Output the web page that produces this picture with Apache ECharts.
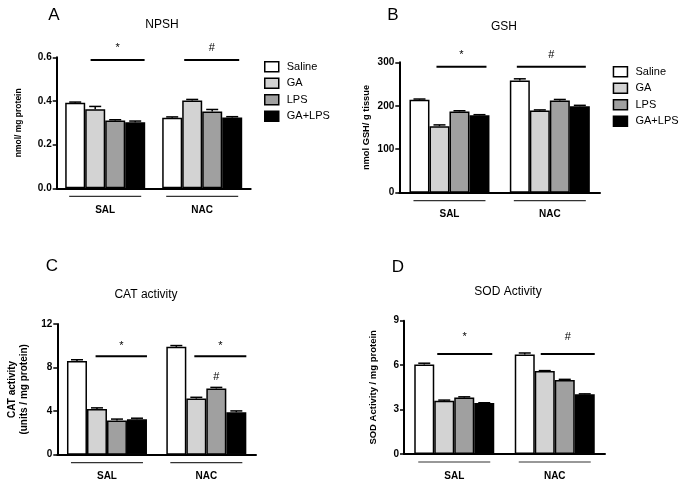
<!DOCTYPE html>
<html>
<head>
<meta charset="utf-8">
<script src="https://cdn.jsdelivr.net/npm/echarts@6/dist/echarts.min.js"></script>
<style>
html,body{margin:0;padding:0;background:#fff;}
#chart{width:683px;height:487px;}
</style>
</head>
<body>
<div id="chart"></div>
<script>
// ---------- DATA ----------
const categories = ['SAL', 'NAC'];
const seriesNames = ['Saline', 'GA', 'LPS', 'GA+LPS'];

// Panel A: NPSH (nmol / mg protein), values per series [Saline, GA, LPS, GA+LPS]
const npshSAL = [0.392, 0.362, 0.311, 0.303];
const npshNAC = [0.323, 0.402, 0.352, 0.324];
const npshErrSAL = [0.003, 0.013, 0.003, 0.005];
const npshErrNAC = [0.004, 0.005, 0.009, 0.004];
const npshTicks = [0, 0.2, 0.4, 0.6];

// Panel B: GSH (nmol GSH / g tissue)
const gshSAL = [214, 153, 187, 178];
const gshNAC = [258, 189, 212, 199];
const gshErrSAL = [1.5, 3, 1.5, 1.5];
const gshErrNAC = [4, 1.5, 2.5, 2];
const gshTicks = [0, 100, 200, 300];

// Panel C: CAT activity (units / mg protein)
const catSAL = [8.6, 4.2, 3.15, 3.25];
const catNAC = [9.9, 5.15, 6.08, 3.9];
const catErrSAL = [0.12, 0.1, 0.12, 0.1];
const catErrNAC = [0.12, 0.12, 0.1, 0.12];
const catTicks = [0, 4, 8, 12];

// Panel D: SOD Activity / mg protein
const sodSAL = [6.05, 3.6, 3.82, 3.44];
const sodNAC = [6.72, 5.6, 5.0, 4.03];
const sodErrSAL = [0.08, 0.04, 0.04, 0.02];
const sodErrNAC = [0.1, 0.03, 0.04, 0.03];
const sodTicks = [0, 3, 6, 9];

// Significance annotations: [category, startBar, endBar, lineValue, textValue, text, (textBar)]
const npshSig = [[0, 1.27, 3.97, 0.588, 0.643, '*'], [1, 1.1, 3.85, 0.588, 0.643, '#']];
const gshSig = [[0, 1.35, 3.85, 290, 317, '*'], [1, 0.35, 3.8, 290, 317, '#']];
const catSig = [[0, 1.43, 4.0, 9.03, 9.98, '*'], [1, 1.4, 4.0, 9.03, 9.98, '*'], [1, null, null, null, 7.1, '#', 2.5]];
const sodSig = [[0, 1.15, 3.9, 6.75, 7.9, '*'], [1, 1.3, 4.0, 6.75, 7.9, '#']];

// ---------- STYLE ----------
const colors = ['#ffffff', '#d3d3d3', '#a0a0a0', '#000000'];
const BAR_W = 20;
const FONT = '"Liberation Sans", Arial, sans-serif';

const panels = [
  { title: 'NPSH', letter: 'A', sal: npshSAL, nac: npshNAC, eS: npshErrSAL, eN: npshErrNAC, ticks: npshTicks,
    sig: npshSig, yName: 'nmol/ mg protein', grid: { left: 56.7, top: 57.3, width: 194, height: 131 },
    nameGap: 32, nameSize: 8.5, fmt: v => v.toFixed(1), titlePos: [162, 25], letterPos: [54, 15] },
  { title: 'GSH', letter: 'B', sal: gshSAL, nac: gshNAC, eS: gshErrSAL, eN: gshErrNAC, ticks: gshTicks,
    sig: gshSig, yName: 'nmol GSH/ g tissue', grid: { left: 399.3, top: 62.3, width: 200.7, height: 130.4 },
    nameGap: 27, nameSize: 9.3, fmt: v => String(v), titlePos: [504, 27], letterPos: [393, 15] },
  { title: 'CAT activity', letter: 'C', sal: catSAL, nac: catNAC, eS: catErrSAL, eN: catErrNAC, ticks: catTicks,
    sig: catSig, yName: 'CAT activity\n(units / mg protein)', grid: { left: 57.3, top: 324, width: 198.7, height: 130.7 },
    nameGap: 27, nameSize: 10, fmt: v => String(v), titlePos: [146, 295], letterPos: [52, 266] },
  { title: 'SOD Activity', letter: 'D', sal: sodSAL, nac: sodNAC, eS: sodErrSAL, eN: sodErrNAC, ticks: sodTicks,
    sig: sodSig, yName: 'SOD Activity / mg protein', grid: { left: 404, top: 320.7, width: 201, height: 133.3 },
    nameGap: 25, nameSize: 9.5, fmt: v => String(v), titlePos: [508, 292], letterPos: [398, 267] }
];

const grids = [], xAxes = [], yAxes = [], series = [], graphics = [];

panels.forEach((p, k) => {
  grids.push(Object.assign({ containLabel: false }, p.grid));
  xAxes.push({
    type: 'category', gridIndex: k, data: categories,
    axisLine: { lineStyle: { color: '#000', width: 2 } },
    axisTick: { show: false },
    axisLabel: { color: '#000', fontFamily: FONT, fontWeight: 'bold', fontSize: 10, margin: 17 }
  });
  const tmin = p.ticks[0], tmax = p.ticks[p.ticks.length - 1];
  yAxes.push({
    type: 'value', gridIndex: k, min: tmin, max: tmax, interval: p.ticks[1] - p.ticks[0],
    splitLine: { show: false },
    axisLine: { show: true, lineStyle: { color: '#000', width: 2 } },
    axisTick: { show: true, length: 4, lineStyle: { color: '#000', width: 1.5 } },
    axisLabel: { color: '#000', fontFamily: FONT, fontWeight: 'bold', fontSize: 10, margin: 5, formatter: p.fmt },
    name: p.yName, nameLocation: 'middle', nameGap: p.nameGap,
    nameTextStyle: { color: '#000', fontFamily: FONT, fontWeight: 'bold', fontSize: p.nameSize, lineHeight: 12 }
  });
  seriesNames.forEach((nm, i) => {
    series.push({
      type: 'bar', name: nm, xAxisIndex: k, yAxisIndex: k,
      data: [p.sal[i], p.nac[i]],
      barWidth: BAR_W, barGap: '0%',
      itemStyle: { color: colors[i], borderColor: '#000', borderWidth: 1.5 },
      emphasis: { disabled: true }, silent: true
    });
  });
  // error bars
  const errData = [];
  seriesNames.forEach((nm, i) => {
    errData.push([0, i, p.sal[i], p.eS[i]]);
    errData.push([1, i, p.nac[i], p.eN[i]]);
  });
  series.push({
    type: 'custom', name: 'err' + k, xAxisIndex: k, yAxisIndex: k, silent: true, clip: false, z: 3,
    data: errData, encode: { x: 0, y: 2 },
    renderItem: (params, api) => {
      const c = api.coord([api.value(0), api.value(2)]);
      const t = api.coord([api.value(0), api.value(2) + api.value(3)]);
      const x = c[0] + (api.value(1) - 1.5) * BAR_W;
      const st = { stroke: '#000', lineWidth: 1.5 };
      return { type: 'group', children: [
        { type: 'line', shape: { x1: x, y1: c[1], x2: x, y2: t[1] }, style: st },
        { type: 'line', shape: { x1: x - 6, y1: t[1], x2: x + 6, y2: t[1] }, style: st }
      ] };
    }
  });
  // significance annotations
  series.push({
    type: 'custom', name: 'sig' + k, xAxisIndex: k, yAxisIndex: k, silent: true, clip: false, z: 4,
    data: p.sig.map(s => [s[0], s[4]]), encode: { x: 0, y: 1 },
    renderItem: (params, api) => {
      const s = p.sig[params.dataIndex];
      const c = api.coord([s[0], s[4]]);
      const left = c[0] - 2 * BAR_W;
      const children = [];
      let mid;
      if (s[1] !== null) {
        const ly = api.coord([s[0], s[3]])[1];
        const x1 = left + s[1] * BAR_W, x2 = left + s[2] * BAR_W;
        mid = (x1 + x2) / 2;
        children.push({ type: 'line', shape: { x1: x1, y1: ly, x2: x2, y2: ly }, style: { stroke: '#000', lineWidth: 2 } });
      } else {
        mid = left + s[6] * BAR_W;
      }
      children.push({ type: 'text', style: { text: s[5], x: mid, y: c[1], textAlign: 'center', textVerticalAlign: 'middle',
        font: '11px ' + FONT, fill: '#000' } });
      return { type: 'group', children: children };
    }
  });
  // group underlines below the x axis
  series.push({
    type: 'custom', name: 'under' + k, xAxisIndex: k, yAxisIndex: k, silent: true, clip: false, z: 4,
    data: categories.map((c, i) => [i, tmin]), encode: { x: 0, y: 1 },
    renderItem: (params, api) => {
      const c = api.coord([api.value(0), api.value(1)]);
      return { type: 'line', shape: { x1: c[0] - 36, y1: c[1] + 8, x2: c[0] + 36, y2: c[1] + 8 },
        style: { stroke: '#333', lineWidth: 1.2 } };
    }
  });
  graphics.push({ type: 'text', x: p.titlePos[0], y: p.titlePos[1],
    style: { text: p.title, font: '12px ' + FONT, fill: '#000', textAlign: 'center', textVerticalAlign: 'middle' } });
  graphics.push({ type: 'text', x: p.letterPos[0], y: p.letterPos[1],
    style: { text: p.letter, font: '17px ' + FONT, fill: '#000', textAlign: 'center', textVerticalAlign: 'middle' } });
});

const legendBase = {
  orient: 'vertical', data: seriesNames, icon: 'rect', itemWidth: 14, itemHeight: 10, itemGap: 5, padding: 0,
  textStyle: { color: '#000', fontFamily: FONT, fontSize: 11, padding: [0, 0, 0, 3] },
  itemStyle: { borderColor: '#000', borderWidth: 1.5 }, selectedMode: false
};

const option = {
  animation: false,
  backgroundColor: '#fff',
  grid: grids, xAxis: xAxes, yAxis: yAxes, series: series,
  legend: [
    Object.assign({}, legendBase, { left: 264, top: 61 }),
    Object.assign({}, legendBase, { left: 612.7, top: 66 })
  ],
  graphic: graphics
};

const chart = echarts.init(document.getElementById('chart'), null, { renderer: 'canvas' });
chart.setOption(option);
</script>
</body>
</html>
